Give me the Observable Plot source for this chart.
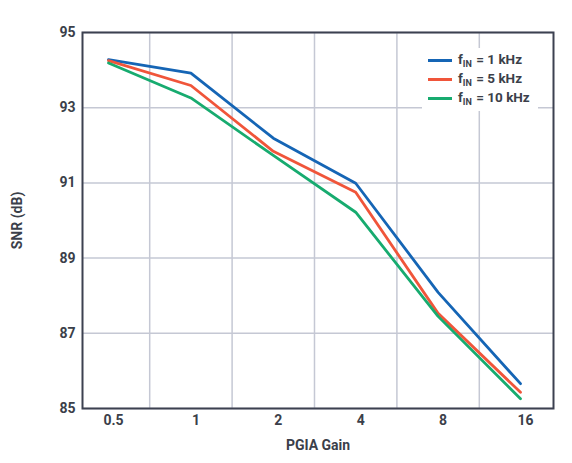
<!DOCTYPE html>
<html>
<head>
<meta charset="utf-8">
<script src="https://cdn.jsdelivr.net/npm/d3@7"></script>
<script src="https://cdn.jsdelivr.net/npm/@observablehq/plot@0.6"></script>
<style>
  html, body { margin: 0; padding: 0; background: #fff; }
  #wrap { position: relative; width: 572px; height: 463px; font-family: Roboto, "Noto Sans", sans-serif; }
  #legend { position: absolute; left: 422px; top: 48px; width: 116px; height: 63px; background: #fff; }
  .row { position: absolute; left: 6px; height: 19px; display: flex; align-items: center; font-weight: 700; font-size: 13.5px; color: #3b3f4a; white-space: nowrap; }
  .sw { width: 24px; height: 3px; margin-right: 6px; flex: none; }
  .txt { display: inline-block; line-height: 19px; }
  .txt .sb { font-size: 9px; position: relative; top: 3px; margin-right: 1px; }
</style>
</head>
<body>
<div id="wrap"></div>
<script>
// PGIA gain categories
const gains = [0.5, 1, 2, 4, 8, 16];
const gainLabels = ["0.5", "1", "2", "4", "8", "16"];
// SNR (dB) per input frequency
const snr1k  = [94.28, 93.92, 92.19, 90.99, 88.09, 85.66];
const snr5k  = [94.25, 93.59, 91.84, 90.75, 87.53, 85.43];
const snr10k = [94.19, 93.26, 91.73, 90.22, 87.45, 85.26];
const seriesNames = ["1 kHz", "5 kHz", "10 kHz"];
const seriesValues = [snr1k, snr5k, snr10k];
const colors = ["#1565b5", "#f0553a", "#17ab6f"];
const yTicks = [85, 87, 89, 91, 93, 95];

const rows = [];
seriesNames.forEach((name, s) => {
  gains.forEach((g, i) => rows.push({series: name, gain: g, snr: seriesValues[s][i]}));
});
const gridX = gains.slice(0, -1).map(g => g * Math.SQRT2);

const textColor = "#3b3f4a";
const plot = Plot.plot({
  width: 572,
  height: 463,
  marginLeft: 82,
  marginRight: 19,
  marginTop: 32,
  marginBottom: 55,
  style: {fontFamily: "Roboto, 'Noto Sans', sans-serif", fontSize: "14px", fontWeight: 700, color: textColor, background: "#fff"},
  x: {type: "log", base: 2, domain: [0.5 / Math.pow(2, 0.3155), 16 * Math.pow(2, 0.4005)]},
  y: {domain: [85, 95]},
  color: {domain: seriesNames, range: colors},
  marks: [
    Plot.ruleX(gridX, {stroke: "#c5c8d4", strokeWidth: 1.5}),
    Plot.ruleY(yTicks, {stroke: "#c5c8d4", strokeWidth: 1.5}),
    Plot.line(rows, {x: "gain", y: "snr", z: "series", stroke: "series", strokeWidth: 2.8, strokeLinejoin: "round"}),
    Plot.frame({stroke: "#3c4150", strokeWidth: 2}),
    Plot.axisX(gains, {tickSize: 0, tickPadding: 7, dx: 5, tickFormat: (d) => gainLabels[gains.indexOf(d)], label: "PGIA Gain", labelAnchor: "center", labelArrow: "none", labelOffset: 41, fontSize: 14, fontWeight: 700, fill: textColor}),
    Plot.axisY(yTicks, {tickSize: 0, tickPadding: 7, label: "SNR (dB)", labelAnchor: "center", labelArrow: "none", labelOffset: 70, fontSize: 14, fontWeight: 700, fill: textColor})
  ]
});
const wrap = document.getElementById("wrap");
wrap.appendChild(plot);

const legend = document.createElement("div");
legend.id = "legend";
seriesNames.forEach((name, s) => {
  const r = document.createElement("div");
  r.className = "row";
  r.style.top = (3 + s * 19) + "px";
  r.innerHTML = `<span class="sw" style="background:${colors[s]}"></span><span class="txt">f<span class="sb">IN</span>&nbsp;=&nbsp;${name}</span>`;
  legend.appendChild(r);
});
wrap.appendChild(legend);
</script>
</body>
</html>
